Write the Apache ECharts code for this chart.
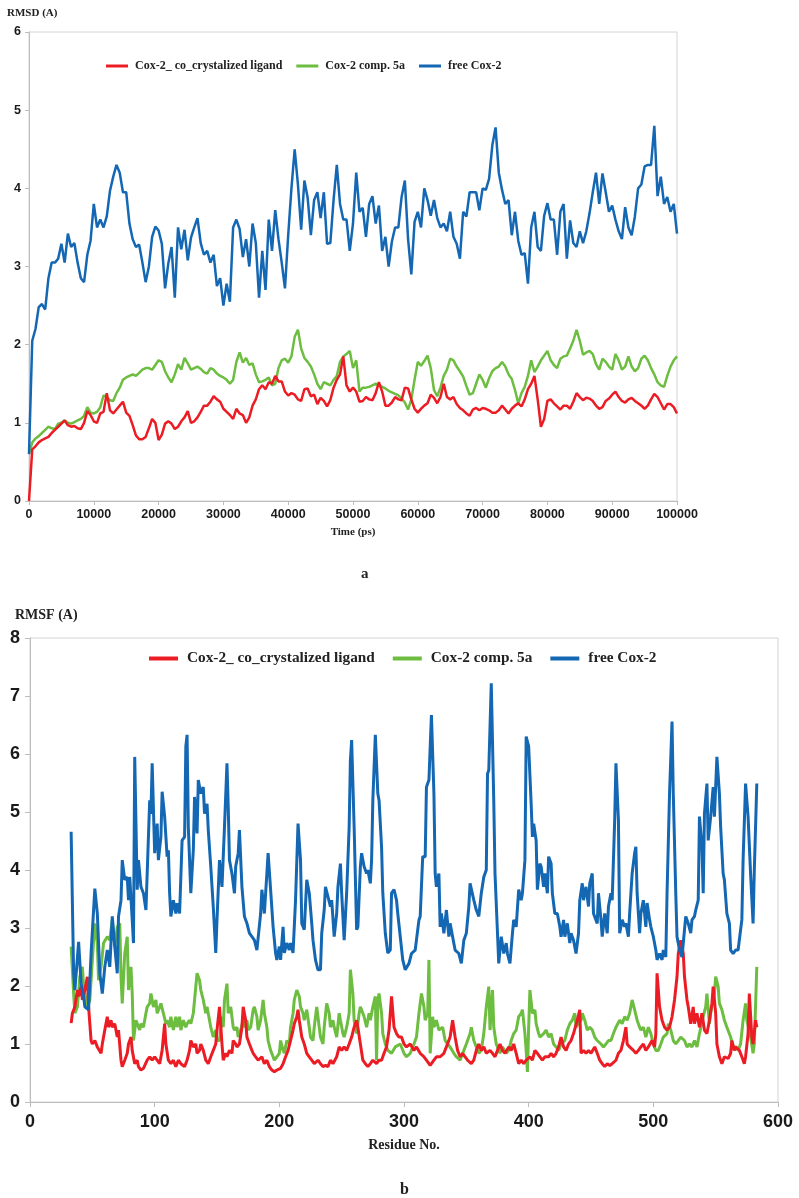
<!DOCTYPE html>
<html>
<head>
<meta charset="utf-8">
<title>RMSD / RMSF</title>
<script src="https://cdn.jsdelivr.net/npm/echarts@6/dist/echarts.min.js"></script>
<style>
  html, body { margin: 0; padding: 0; background: #fff; }
  #main { width: 799px; height: 1198px; }
</style>
</head>
<body>
<div id="main"></div>
<script>
// series names, same for both panels
var names = ['Cox-2_ co_crystalized ligand', 'Cox-2 comp. 5a', 'free Cox-2'];

// panel a: RMSD, one sample every 500 ps from 0 to 100000 ps
var rmsdStep = 500;
var rmsdLigand = [
  0, 0.66, 0.7, 0.75, 0.78, 0.8, 0.82, 0.87, 0.91, 0.95,
  0.99, 1.03, 0.97, 0.95, 0.96, 0.93, 0.92, 1.0, 1.15, 1.1,
  1.02, 1.0, 1.12, 1.14, 1.38, 1.16, 1.12, 1.17, 1.22, 1.27,
  1.13, 1.09, 0.97, 0.84, 0.79, 0.79, 0.82, 0.93, 1.05, 1.0,
  0.78, 0.85, 0.99, 1.02, 0.99, 0.92, 0.95, 1.02, 1.07, 1.15,
  1.0, 1.02, 1.07, 1.14, 1.22, 1.22, 1.27, 1.34, 1.3, 1.27,
  1.18, 1.14, 1.1, 1.05, 1.18, 1.12, 1.1, 1.0, 1.07, 1.22,
  1.3, 1.43, 1.48, 1.43, 1.52, 1.5, 1.6, 1.53, 1.53, 1.4,
  1.35, 1.38, 1.36, 1.3, 1.28, 1.43, 1.44, 1.34, 1.36, 1.24,
  1.32, 1.28, 1.21, 1.29, 1.45, 1.55, 1.62, 1.85, 1.48, 1.4,
  1.45,
  1.4, 1.27, 1.28, 1.33, 1.3, 1.29, 1.38, 1.52, 1.4, 1.22,
  1.22, 1.26, 1.33, 1.3, 1.29, 1.45, 1.44, 1.3, 1.18, 1.13,
  1.18, 1.22, 1.25, 1.36, 1.32, 1.25, 1.33, 1.5, 1.33, 1.3,
  1.33, 1.24, 1.19, 1.16, 1.12, 1.09, 1.17, 1.19, 1.16, 1.19,
  1.18, 1.16, 1.13, 1.13, 1.16, 1.22, 1.17, 1.12, 1.18, 1.22,
  1.25, 1.21, 1.3, 1.43, 1.5, 1.6, 1.3, 0.95, 1.05, 1.28,
  1.3, 1.25, 1.21, 1.17, 1.22, 1.22, 1.18, 1.27, 1.38, 1.33,
  1.29, 1.32, 1.31, 1.28, 1.22, 1.18, 1.2, 1.28, 1.31, 1.36,
  1.4, 1.33, 1.28, 1.26, 1.3, 1.32, 1.28, 1.25, 1.22, 1.18,
  1.22, 1.3, 1.37, 1.33, 1.25, 1.17, 1.24, 1.24, 1.2, 1.12
];
var rmsdComp5a = [
  0.6, 0.75, 0.8, 0.83, 0.87, 0.91, 0.95, 0.93, 0.92, 0.99,
  1.0, 1.03, 1.0, 0.99, 1.01, 1.03, 1.05, 1.09, 1.2, 1.13,
  1.12, 1.14, 1.2, 1.35, 1.33, 1.29, 1.28, 1.38, 1.45, 1.55,
  1.58, 1.6, 1.62, 1.6, 1.64, 1.68, 1.7, 1.7, 1.68, 1.74,
  1.8, 1.78, 1.66, 1.58, 1.52, 1.62, 1.75, 1.68, 1.83, 1.76,
  1.68, 1.7, 1.72, 1.69, 1.65, 1.63, 1.7, 1.68, 1.63, 1.6,
  1.58, 1.55, 1.5, 1.55, 1.78, 1.9, 1.77, 1.83, 1.74, 1.76,
  1.62, 1.52, 1.53, 1.55, 1.58, 1.48, 1.5, 1.7, 1.8, 1.82,
  1.77, 1.85, 2.1, 2.19, 1.95, 1.83, 1.78, 1.72, 1.62, 1.5,
  1.43, 1.52, 1.5, 1.48, 1.55, 1.6, 1.78, 1.85, 1.88, 1.92,
  1.7,
  1.8, 1.4, 1.45, 1.45, 1.46, 1.48, 1.5, 1.48, 1.46, 1.44,
  1.41, 1.39, 1.37, 1.35, 1.31, 1.26, 1.17, 1.3, 1.55, 1.78,
  1.73, 1.79, 1.86, 1.7, 1.42, 1.34, 1.45, 1.6, 1.68, 1.82,
  1.8, 1.72, 1.66, 1.59, 1.47, 1.36, 1.38, 1.5, 1.62, 1.55,
  1.45, 1.57, 1.66, 1.7, 1.72, 1.78, 1.72, 1.62, 1.56, 1.42,
  1.25, 1.38, 1.46, 1.6, 1.8, 1.65, 1.72, 1.8, 1.86, 1.92,
  1.8, 1.74, 1.7, 1.82, 1.85, 1.86, 1.95, 2.05, 2.19, 2.05,
  1.87, 1.9, 1.92, 1.88, 1.75, 1.68, 1.82, 1.78, 1.72, 1.68,
  1.88, 1.8, 1.68, 1.72, 1.85, 1.72, 1.66, 1.7, 1.82, 1.86,
  1.8, 1.7, 1.62, 1.52, 1.48, 1.46, 1.6, 1.72, 1.8, 1.85
];
var rmsdFree = [
  0.6, 2.05, 2.2, 2.48, 2.52, 2.45, 2.85, 3.05, 3.05, 3.1,
  3.29, 3.05, 3.42, 3.25, 3.3, 3.05, 2.85, 2.8, 3.15, 3.33,
  3.8, 3.5, 3.6, 3.5, 3.64, 3.97, 4.15, 4.3, 4.2, 3.95,
  3.95, 3.55, 3.35, 3.25, 3.28, 3.05, 2.8, 3.0, 3.38, 3.51,
  3.46, 3.29, 2.72, 3.04, 3.25, 2.6, 3.5, 3.22, 3.47, 3.08,
  3.37, 3.5, 3.62, 3.3, 3.15, 3.2, 3.05, 3.15, 2.75, 2.85,
  2.5, 2.78, 2.55, 3.5, 3.6, 3.48, 3.12, 3.35, 3.0, 3.55,
  3.3, 2.6, 3.2, 2.7, 3.6, 3.2, 3.72, 3.35, 3.05, 2.72,
  3.4, 4.0, 4.5, 4.05, 3.47, 4.1, 3.88, 3.4, 3.85, 3.95,
  3.62, 3.95, 3.29, 3.3, 3.85, 4.3, 3.8, 3.6, 3.6, 3.2,
  3.55,
  4.2, 3.7, 3.75, 3.38, 3.8, 3.9, 3.55, 3.78, 3.2, 3.38,
  3.0, 3.32, 3.5, 3.5, 3.89, 4.1, 3.35, 2.9, 3.57, 3.7,
  3.5, 4.0, 3.85, 3.65, 3.85, 3.62, 3.5, 3.55, 3.45, 3.7,
  3.38, 3.29, 3.1, 3.7, 3.64, 3.95, 3.95, 3.95, 3.72, 4.0,
  3.98, 4.12, 4.55, 4.78, 4.2, 3.98, 3.8, 3.85, 3.4, 3.7,
  3.33, 3.15, 3.17, 2.78, 3.5, 3.7, 3.25, 3.2, 3.65, 3.81,
  3.6, 3.6, 3.15, 3.7, 3.8, 3.1, 3.59, 3.3, 3.25, 3.45,
  3.3, 3.45, 3.68, 3.95, 4.2, 3.8, 4.19, 3.95, 3.7, 3.78,
  3.6, 3.45, 3.35, 3.76, 3.5, 3.4, 3.64, 4.0, 4.05, 4.28,
  4.3, 4.3, 4.8, 3.9, 4.15, 3.8, 3.89, 3.7, 3.8, 3.42
];

// panel b: RMSF per residue (residue numbers and values)
var ligandRes = [33,34,36,38,39,41,42,44,46,47,49,50,52,54,55,57,58,60,62,63,65,66,68,70,71,73,74,76,78,79,81,82,84,86,87,89,91,94,96,98,100,102,104,106,108,109,111,113,115,117,119,121,124,126,128,129,131,133,134,136,137,139,141,143,145,147,149,150,152,154,155,157,158,160,162,163,165,166,168,170,171,173,174,176,178,179,181,183,186,188,190,192,194,196,198,201,203,205,207,209,211,212,214,215,216,218,220,222,224,226,228,231,233,235,237,239,241,243,246,248,250,252,254,256,258,260,262,263,265,267,269,271,273,275,278,280,282,284,286,288,290,292,294,296,298,300,302,305,308,310,313,316,318,321,324,326,329,332,334,337,339,341,343,345,347,349,351,354,356,358,360,362,364,366,369,371,373,375,377,379,381,384,386,388,390,392,394,396,398,401,403,405,407,409,411,413,416,418,420,422,424,426,428,430,432,434,436,439,441,442,444,446,448,450,453,455,457,459,461,463,465,467,470,472,474,476,478,479,481,484,486,488,490,492,494,496,499,501,502,503,505,507,509,511,513,515,517,519,520,522,524,525,527,528,530,532,533,535,537,539,541,543,545,547,548,550,551,553,555,557,560,562,563,565,566,569,571,573,574,576,577,579,580,582,583];
var ligandRmsf = [1.36,1.53,1.64,1.93,1.82,1.99,1.76,1.93,2.16,1.64,1.06,1.0,1.06,0.95,0.95,0.84,1.0,1.24,1.47,1.29,1.41,1.29,1.35,1.12,1.24,0.72,0.61,0.72,0.84,1.0,1.12,0.89,0.66,0.72,0.61,0.55,0.58,0.72,0.78,0.72,0.78,0.72,0.66,0.89,1.35,1.0,0.72,0.66,0.72,0.61,0.72,0.66,0.61,0.72,0.89,1.06,0.95,1.0,0.84,0.89,1.0,0.89,0.72,0.66,0.78,0.89,1.0,1.24,1.64,1.0,0.72,0.84,0.78,0.89,0.84,1.06,1.0,0.95,1.0,1.29,1.64,1.41,1.12,1.0,0.89,0.84,0.78,0.72,0.78,0.66,0.72,0.61,0.55,0.52,0.55,0.58,0.66,0.78,0.89,1.06,1.24,1.35,1.47,1.59,1.41,1.12,1.0,0.84,0.78,0.72,0.66,0.72,0.66,0.61,0.63,0.61,0.72,0.66,0.78,0.95,0.89,0.95,0.89,1.0,1.12,1.29,1.41,1.29,1.0,0.72,0.66,0.61,0.66,0.72,0.66,0.72,0.72,0.84,0.95,1.24,1.82,1.29,1.18,1.12,1.12,1.0,0.95,1.0,0.89,0.95,0.84,0.78,0.72,0.63,0.72,0.78,0.78,0.84,0.95,1.12,1.41,1.12,0.89,0.78,0.84,0.78,0.72,0.66,0.72,0.89,1.0,0.89,0.95,0.84,0.89,0.84,0.78,0.89,1.0,0.89,0.84,0.95,0.89,1.0,0.84,0.66,0.72,0.66,0.72,0.78,0.72,0.89,0.84,0.78,0.72,0.78,0.78,0.84,0.78,0.84,0.95,1.12,0.95,0.89,1.0,1.06,1.18,1.41,1.59,0.84,0.89,0.84,0.89,0.84,0.95,0.84,0.72,0.66,0.61,0.66,0.63,0.66,0.72,0.84,0.89,1.06,1.29,1.0,0.95,0.89,0.84,0.89,0.95,1.0,0.89,0.95,1.06,0.95,1.18,2.22,1.64,1.41,1.29,1.24,1.29,1.47,1.76,2.16,2.56,2.79,2.56,2.16,1.76,1.64,1.35,1.64,1.35,1.53,1.29,1.53,1.24,1.18,1.41,1.7,1.99,1.53,1.0,0.78,0.66,0.78,0.75,0.84,1.06,0.89,0.95,0.89,0.78,0.66,0.78,1.18,1.87,1.12,1.0,1.41,1.29];

var compRes = [33,35,36,38,40,42,43,46,48,50,52,54,55,57,59,62,64,66,68,70,72,73,74,76,78,79,81,82,83,85,86,88,89,91,93,94,96,97,99,101,102,104,105,107,109,110,112,113,115,117,118,120,121,123,125,126,128,129,131,133,134,136,137,139,141,142,144,145,147,149,150,152,154,155,156,158,159,161,163,164,166,167,169,171,172,174,175,177,179,180,182,183,185,187,188,190,191,193,195,196,198,200,201,203,204,206,208,209,211,212,214,216,217,219,220,222,224,225,227,228,230,232,233,235,236,238,240,241,243,244,246,248,249,251,252,254,256,257,259,260,262,264,265,267,268,270,272,273,275,277,278,279,280,282,283,285,287,290,293,297,300,302,305,308,310,312,314,316,317,319,320,321,323,324,326,328,331,333,335,337,340,342,345,348,350,353,354,356,358,360,362,364,366,368,369,371,372,374,376,377,379,382,384,386,388,390,392,394,395,397,398,399,400,401,403,405,406,408,409,412,414,416,418,420,422,424,426,429,431,433,435,437,438,440,442,443,445,447,449,451,453,455,458,460,462,464,466,468,470,473,475,477,479,481,483,485,487,489,490,492,494,496,498,500,502,504,506,508,511,512,514,516,518,520,522,525,527,529,531,533,535,537,540,542,543,545,546,549,550,552,553,555,557,559,562,564,566,568,570,572,574,575,578,580,581,583];
var compRmsf = [2.68,1.87,1.53,1.64,2.16,2.33,1.99,1.64,1.76,2.45,3.08,2.74,2.1,2.33,2.74,2.85,2.79,3.14,2.68,3.02,3.08,2.16,1.7,2.56,2.85,1.93,2.33,1.87,1.06,1.41,1.41,1.24,1.35,1.29,1.53,1.64,1.7,1.87,1.64,1.76,1.53,1.64,1.7,1.53,1.35,1.41,1.29,1.47,1.24,1.47,1.29,1.47,1.24,1.41,1.29,1.35,1.41,1.35,1.53,1.99,2.22,2.1,1.93,1.76,1.53,1.64,1.41,1.29,1.12,1.24,1.06,1.06,1.47,1.29,1.76,2.04,1.53,1.64,1.29,1.24,1.29,1.12,1.24,1.41,1.29,1.41,1.24,1.29,1.59,1.64,1.47,1.24,1.41,1.76,1.53,1.29,1.06,0.89,0.78,0.72,0.78,0.84,1.06,0.89,0.84,1.06,1.0,1.29,1.53,1.76,1.93,1.82,1.64,1.53,1.41,1.59,1.29,1.12,1.06,1.29,1.64,1.29,1.12,1.0,1.29,1.7,1.53,1.29,1.41,1.29,1.12,1.53,1.41,1.18,1.12,1.29,1.53,2.28,1.87,1.41,1.18,1.53,1.64,1.53,1.47,1.29,1.53,1.41,1.64,1.82,0.72,1.76,1.87,1.53,1.18,1.0,0.89,0.84,0.95,1.0,0.84,0.78,0.84,1.0,1.12,1.53,1.87,1.64,1.41,1.53,2.45,0.84,1.47,1.29,1.41,1.24,1.29,1.06,1.0,0.95,0.84,0.78,0.72,0.89,1.0,1.18,1.29,1.06,0.95,0.84,0.89,1.18,1.64,1.99,1.24,1.93,1.29,1.0,0.89,0.84,0.95,0.84,0.89,1.06,1.18,1.24,1.47,1.53,1.59,1.18,0.89,0.52,1.29,1.93,1.53,1.59,1.35,1.18,1.12,1.18,1.24,1.12,1.18,1.0,0.95,0.89,1.0,1.06,1.24,1.35,1.41,1.53,1.29,1.35,1.41,1.53,1.41,1.24,1.29,1.24,1.12,1.06,1.0,0.95,1.0,1.06,1.06,1.18,1.29,1.41,1.35,1.47,1.41,1.53,1.76,1.59,1.41,1.29,1.24,1.29,1.12,1.29,1.18,1.0,0.89,0.89,1.0,1.12,1.18,1.35,1.24,1.06,1.0,1.06,1.12,1.06,0.95,1.0,0.95,1.06,0.95,1.18,1.47,1.64,1.87,1.35,1.53,1.87,2.16,1.99,1.7,1.59,1.41,1.29,1.12,0.95,0.95,0.89,1.0,1.41,1.7,1.41,1.12,0.84,1.0,2.33];

var freeRes = [33,35,36,39,41,43,44,47,49,52,54,56,58,60,62,64,66,68,70,71,73,74,76,78,79,80,82,83,84,86,87,89,91,93,94,96,97,98,100,102,103,105,106,108,110,111,112,113,115,117,118,120,122,124,125,126,127,129,131,132,134,135,137,139,140,142,143,145,147,149,150,152,154,156,158,159,160,162,164,165,167,168,170,172,174,176,178,180,182,185,186,188,190,191,193,195,197,198,200,201,203,204,206,208,209,211,213,215,217,218,220,222,224,226,227,229,231,233,234,236,237,239,241,242,244,246,247,249,250,252,254,256,257,258,260,262,263,265,266,268,270,271,273,274,275,277,279,280,282,283,285,287,289,290,292,294,295,297,299,301,304,306,309,312,313,315,317,318,320,322,324,325,326,328,329,330,332,334,336,337,339,341,344,346,348,350,352,353,356,358,360,362,364,366,367,368,370,372,373,375,376,378,380,382,383,385,387,388,390,392,394,395,397,398,400,402,403,404,406,407,409,410,412,413,415,416,418,419,421,423,425,426,428,429,431,433,434,436,438,440,441,443,444,446,448,449,451,452,455,456,458,459,461,463,464,466,467,469,470,472,473,475,477,478,480,481,483,485,486,487,489,490,492,494,495,497,498,500,502,503,505,507,508,510,511,513,515,516,518,519,521,523,525,526,528,530,531,533,534,536,537,539,540,541,543,544,546,548,549,551,553,554,556,557,559,561,562,564,566,568,570,571,572,574,576,578,580,581,582,583];
var freeRmsf = [4.66,2.22,1.93,2.76,2.04,1.82,1.64,1.59,2.56,3.68,3.25,2.22,1.87,2.33,2.62,2.33,3.2,2.68,2.22,3.2,3.48,4.17,3.83,3.88,3.48,3.88,3.14,2.74,5.95,3.66,4.17,3.71,3.6,3.31,3.94,5.2,4.97,5.84,4.29,4.8,4.17,4.57,5.35,4.92,4.23,4.34,3.6,3.2,3.48,3.25,3.43,3.25,4.51,4.57,6.13,6.33,4.74,3.6,4.34,5.26,4.63,5.55,5.32,5.43,4.97,5.14,4.69,4.06,3.37,2.57,3.14,4.17,3.71,4.74,5.84,5.09,4.17,3.94,3.6,4.06,4.29,4.69,3.71,3.2,3.08,2.91,2.85,2.79,2.62,3.25,3.66,3.25,3.94,4.29,3.66,3.02,2.57,2.45,2.68,2.45,3.02,2.57,2.74,2.62,2.74,2.57,3.48,4.8,4.17,3.08,2.97,3.83,3.6,3.08,2.79,2.45,2.28,2.28,2.91,3.31,3.71,3.54,3.37,3.48,2.85,3.25,3.71,4.11,3.6,2.79,3.6,4.74,5.89,6.24,4.74,2.97,3.02,4.06,4.29,4.06,3.94,4.0,3.77,4.17,5.2,6.33,5.32,5.2,4.4,3.6,2.91,2.57,2.62,3.6,3.66,3.48,3.25,2.85,2.45,2.28,2.39,2.56,2.62,3.14,3.2,4.23,4.23,5.43,5.55,6.67,5.32,3.94,3.71,3.94,3.02,3.25,2.91,3.31,2.85,3.08,2.85,2.62,2.56,2.39,2.79,2.91,3.37,3.77,3.48,3.31,3.2,3.6,3.88,4.0,5.66,5.72,7.22,5.2,3.94,2.91,2.39,2.85,2.56,2.74,2.56,2.39,2.91,3.14,3.02,3.66,3.48,3.6,4.17,6.3,6.13,5.14,4.57,4.8,4.51,3.66,4.11,4.06,3.71,3.94,3.6,4.23,4.11,3.6,3.25,3.25,3.02,2.85,3.14,2.85,3.08,2.74,2.91,2.79,2.56,2.91,3.48,3.77,3.48,3.71,3.37,3.77,3.94,3.25,3.08,3.6,3.14,2.85,3.25,2.91,3.37,3.6,3.48,4.86,5.84,4.86,2.91,3.14,3.02,3.08,2.85,3.25,3.94,4.29,4.4,3.6,2.91,3.25,3.48,3.02,3.43,3.14,3.02,2.85,2.62,2.45,2.56,2.45,2.62,2.5,3.6,5.32,6.56,5.32,3.6,2.85,2.62,2.5,2.97,3.2,3.08,2.91,3.14,3.2,3.31,3.48,4.92,4.4,3.6,4.97,5.49,4.51,4.92,5.43,4.92,5.95,5.32,4.74,3.94,3.83,3.25,3.08,2.62,2.56,2.62,2.62,2.97,3.14,4.17,5.49,4.92,3.94,3.08,4.0,4.74,5.49];

var colors = ['#ec1c24', '#6cbd40', '#1467b3'];
var serif = '"Liberation Serif", "DejaVu Serif", serif';
var sans = '"Liberation Sans", Arial, sans-serif';

function timeSeries(values) {
  return values.map(function (v, i) { return [i * rmsdStep, v]; });
}
function resSeries(res, values) {
  return res.map(function (r, i) { return [r, values[i]]; });
}
function plain(v) { return String(v); }

function makeLine(name, idx, xi, data, width) {
  return {
    name: name,
    type: 'line',
    xAxisIndex: xi,
    yAxisIndex: xi,
    data: data,
    showSymbol: false,
    symbol: 'none',
    color: colors[idx],
    itemStyle: { color: colors[idx] },
    lineStyle: { color: colors[idx], width: width },
    emphasis: { disabled: true },
    animation: false
  };
}

var axisLine = { show: true, lineStyle: { color: '#bdbdbd', width: 1 } };

var chart = echarts.init(document.getElementById('main'));
var option = {
  backgroundColor: '#fff',
  animation: false,
  title: [
    { text: 'RMSD (A)', left: 7, top: 8, padding: 0,
      textStyle: { fontFamily: serif, fontWeight: 'bold', fontSize: 11, color: '#222' } },
    { text: 'a', left: 361, top: 567, padding: 0,
      textStyle: { fontFamily: serif, fontWeight: 'bold', fontSize: 15, color: '#222' } },
    { text: 'RMSF (A)', left: 15, top: 608, padding: 0,
      textStyle: { fontFamily: serif, fontWeight: 'bold', fontSize: 14, color: '#222' } },
    { text: 'b', left: 400, top: 1182, padding: 0,
      textStyle: { fontFamily: serif, fontWeight: 'bold', fontSize: 16, color: '#222' } }
  ],
  legend: [
    { data: names, left: 106, top: 60, padding: 0, itemGap: 14,
      itemWidth: 22, itemHeight: 3, icon: 'rect', selectedMode: false,
      textStyle: { fontFamily: serif, fontWeight: 'bold', fontSize: 12, color: '#222', padding: [0, 0, 0, 2] } },
    { data: names, left: 149, top: 651, padding: 0, itemGap: 18,
      itemWidth: 29, itemHeight: 4, icon: 'rect', selectedMode: false,
      textStyle: { fontFamily: serif, fontWeight: 'bold', fontSize: 15.3, color: '#222', padding: [0, 0, 0, 4] } }
  ],
  grid: [
    { left: 29, top: 32, width: 648, height: 469, show: true,
      borderColor: '#d4d4d4', borderWidth: 1, backgroundColor: 'transparent' },
    { left: 30, top: 638, width: 748, height: 464, show: true,
      borderColor: '#d4d4d4', borderWidth: 1, backgroundColor: 'transparent' }
  ],
  xAxis: [
    { type: 'value', gridIndex: 0, min: 0, max: 100000, interval: 10000,
      name: 'Time (ps)', nameLocation: 'middle', nameGap: 26,
      nameTextStyle: { fontFamily: serif, fontWeight: 'bold', fontSize: 11, color: '#222' },
      axisLine: axisLine, axisTick: { show: true, length: 4, lineStyle: { color: '#bdbdbd' } },
      axisLabel: { margin: 7, formatter: plain, fontFamily: sans, fontWeight: 'bold', fontSize: 12.5, color: '#1a1a1a' },
      splitLine: { show: false } },
    { type: 'value', gridIndex: 1, min: 0, max: 600, interval: 100,
      name: 'Residue No.', nameLocation: 'middle', nameGap: 36,
      nameTextStyle: { fontFamily: serif, fontWeight: 'bold', fontSize: 14, color: '#222' },
      axisLine: axisLine, axisTick: { show: true, length: 5, lineStyle: { color: '#bdbdbd' } },
      axisLabel: { margin: 11, formatter: plain, fontFamily: sans, fontWeight: 'bold', fontSize: 18, color: '#1a1a1a' },
      splitLine: { show: false } }
  ],
  yAxis: [
    { type: 'value', gridIndex: 0, min: 0, max: 6, interval: 1,
      axisLine: axisLine, axisTick: { show: true, length: 4, lineStyle: { color: '#bdbdbd' } },
      axisLabel: { margin: 8, fontFamily: sans, fontWeight: 'bold', fontSize: 12.5, color: '#1a1a1a' },
      splitLine: { show: false } },
    { type: 'value', gridIndex: 1, min: 0, max: 8, interval: 1,
      axisLine: axisLine, axisTick: { show: true, length: 5, lineStyle: { color: '#bdbdbd' } },
      axisLabel: { margin: 10, fontFamily: sans, fontWeight: 'bold', fontSize: 18, color: '#1a1a1a' },
      splitLine: { show: false } }
  ],
  series: [
    makeLine(names[1], 1, 0, timeSeries(rmsdComp5a), 2.5),
    makeLine(names[0], 0, 0, timeSeries(rmsdLigand), 2.5),
    makeLine(names[2], 2, 0, timeSeries(rmsdFree), 2.5),
    makeLine(names[1], 1, 1, resSeries(compRes, compRmsf), 3),
    makeLine(names[0], 0, 1, resSeries(ligandRes, ligandRmsf), 3),
    makeLine(names[2], 2, 1, resSeries(freeRes, freeRmsf), 3)
  ]
};
chart.setOption(option);
</script>
</body>
</html>
